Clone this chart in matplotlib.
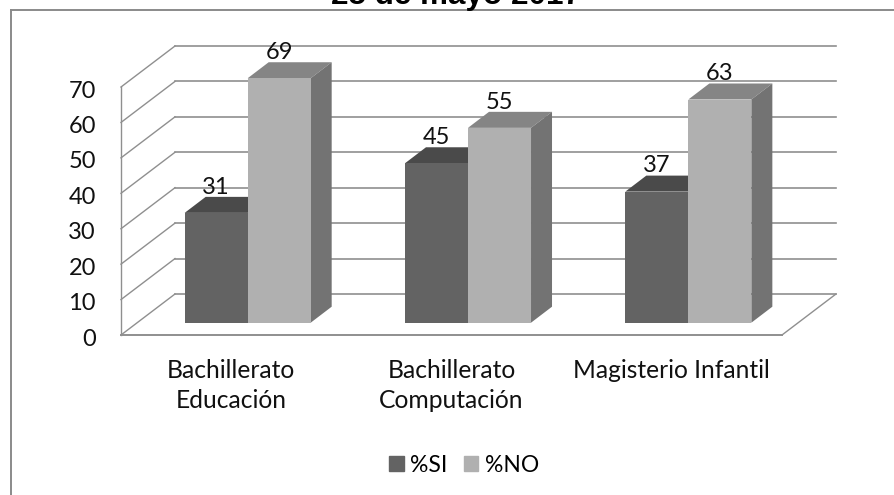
# plot.py

import numpy as np
import matplotlib

matplotlib.use('Agg')  # Non-interactive backend
import matplotlib.pyplot as plt
from matplotlib.lines import Line2D
from matplotlib.transforms import Affine2D

categories = ['Bachillerato\nEducación', 'Bachillerato\nComputación', 'Magisterio Infantil']
si_values = [31, 45, 37]
no_values = [69, 55, 63]
y_ticks = [0, 10, 20, 30, 40, 50, 60, 70]
title = '25 de mayo 2017'
series_names = ['%SI', '%NO']

W, H = 895, 495
FONT = 'Lato'
GRID = '#8f8f8f'

SI_FRONT, SI_TOP, SI_SIDE = '#636363', '#4a4a4a', '#4e4e4e'
NO_FRONT, NO_TOP, NO_SIDE = '#b0b0b0', '#858585', '#737373'

# pixel offsets for the fake 3D
BACK = (54, 41)
BAR_FRONT = (16.5, 12.3)
BAR_DEPTH = (21, 16)
BAR_WIDTH = 0.286


def draw_bar(ax, x, value, colors, shift, z):
    front, top, side = colors
    t_front = ax.transData + Affine2D().translate(*BAR_FRONT)
    t_back = t_front + Affine2D().translate(*BAR_DEPTH)
    left = x + shift
    right = left + BAR_WIDTH

    # top and side faces are in display coords so depth stays in pixels
    a, b = t_front.transform([(left, value), (right, value)])
    c, d = t_back.transform([(left, value), (right, value)])
    e = t_front.transform((right, 0))
    f = t_back.transform((right, 0))
    ax.add_patch(plt.Polygon([a, b, d, c], closed=True, color=top, lw=0, transform=None, clip_on=False, zorder=z))
    ax.add_patch(plt.Polygon([b, d, f, e], closed=True, color=side, lw=0, transform=None, clip_on=False, zorder=z))
    ax.bar(left, value, BAR_WIDTH, align='edge', color=front, transform=t_front, clip_on=False, zorder=z + 0.5)


def wall_line(ax, x, v, t_wall, lw=1.0):
    p0 = ax.transData.transform((x, v))
    p1 = t_wall.transform((x, v))
    ax.add_line(Line2D([p0[0], p1[0]], [p0[1], p1[1]], color=GRID, lw=lw, transform=None, clip_on=False, zorder=1))


fig = plt.figure(figsize=(W / 100, H / 100), dpi=100)
fig.patch.set_facecolor('white')

# axes rectangle is the front plane of the 3D box
ax = fig.add_axes([121 / W, (H - 335) / H, (782 - 121) / W, (335 - 87) / H])
ax.set_xlim(-0.5, 2.5)
ax.set_ylim(0, 70)
ax.patch.set_visible(False)
for s in ax.spines.values():
    s.set_visible(False)

t_wall = ax.transData + Affine2D().translate(*BACK)
for v in y_ticks:
    ax.plot([-0.5, 2.5], [v, v], color=GRID, lw=1.2, transform=t_wall, clip_on=False, zorder=1)
    wall_line(ax, -0.5, v, t_wall)

ax.plot([-0.5, -0.5], [0, 70], color=GRID, lw=1.0, clip_on=False, zorder=1)
ax.plot([-0.5, 2.5], [0, 0], color=GRID, lw=1.4, clip_on=False, zorder=1)
wall_line(ax, 2.5, 0, t_wall)

ax.tick_params(length=0)
ax.set_yticks(y_ticks)
ax.set_yticklabels([str(v) for v in y_ticks], fontsize=17, family=FONT, color='#111111')
ax.tick_params(axis='y', pad=18)
for lab in ax.get_yticklabels():
    lab.set_transform(lab.get_transform() + Affine2D().translate(0, -2))
ax.set_xticks(np.arange(len(categories)))
ax.set_xticklabels(categories, fontsize=17.7, family=FONT, color='#111111', linespacing=1.39)
ax.tick_params(axis='x', pad=17)

for i in range(len(categories)):
    draw_bar(ax, i, si_values[i], (SI_FRONT, SI_TOP, SI_SIDE), -BAR_WIDTH, 2)
    draw_bar(ax, i, no_values[i], (NO_FRONT, NO_TOP, NO_SIDE), 0, 3)
    for shift, v in ((-BAR_WIDTH / 2, si_values[i]), (BAR_WIDTH / 2, no_values[i])):
        ax.annotate(str(v), (i + shift, v), xycoords=ax.transData + Affine2D().translate(*BAR_FRONT),
                    xytext=(0, 18.5), textcoords='offset points', ha='center', va='center',
                    fontsize=17, family=FONT, color='#111111', zorder=5, annotation_clip=False)

handles = [plt.Rectangle((0, 0), 1, 1, color=SI_FRONT), plt.Rectangle((0, 0), 1, 1, color=NO_FRONT)]
fig.legend(handles, series_names, loc='center', bbox_to_anchor=(464 / W, (H - 465) / H), ncol=2, frameon=False,
           prop={'family': FONT, 'size': 16.5}, handlelength=0.65, handleheight=0.65, handletextpad=0.28,
           columnspacing=0.7)

# chart border, cut off by the image on the right and at the bottom
fig.add_artist(Line2D([11 / W, 11 / W], [0, (H - 10) / H], color='#8a8a8a', lw=1.4))
fig.add_artist(Line2D([11 / W, 1], [(H - 10) / H, (H - 10) / H], color='#8a8a8a', lw=1.4))

fig.text(456 / W, (H - 4) / H, title, ha='center', va='baseline', fontsize=22.6, fontweight='bold',
         family='Liberation Sans', color='black')

fig.savefig('out.png', dpi=100)
plt.close(fig)
